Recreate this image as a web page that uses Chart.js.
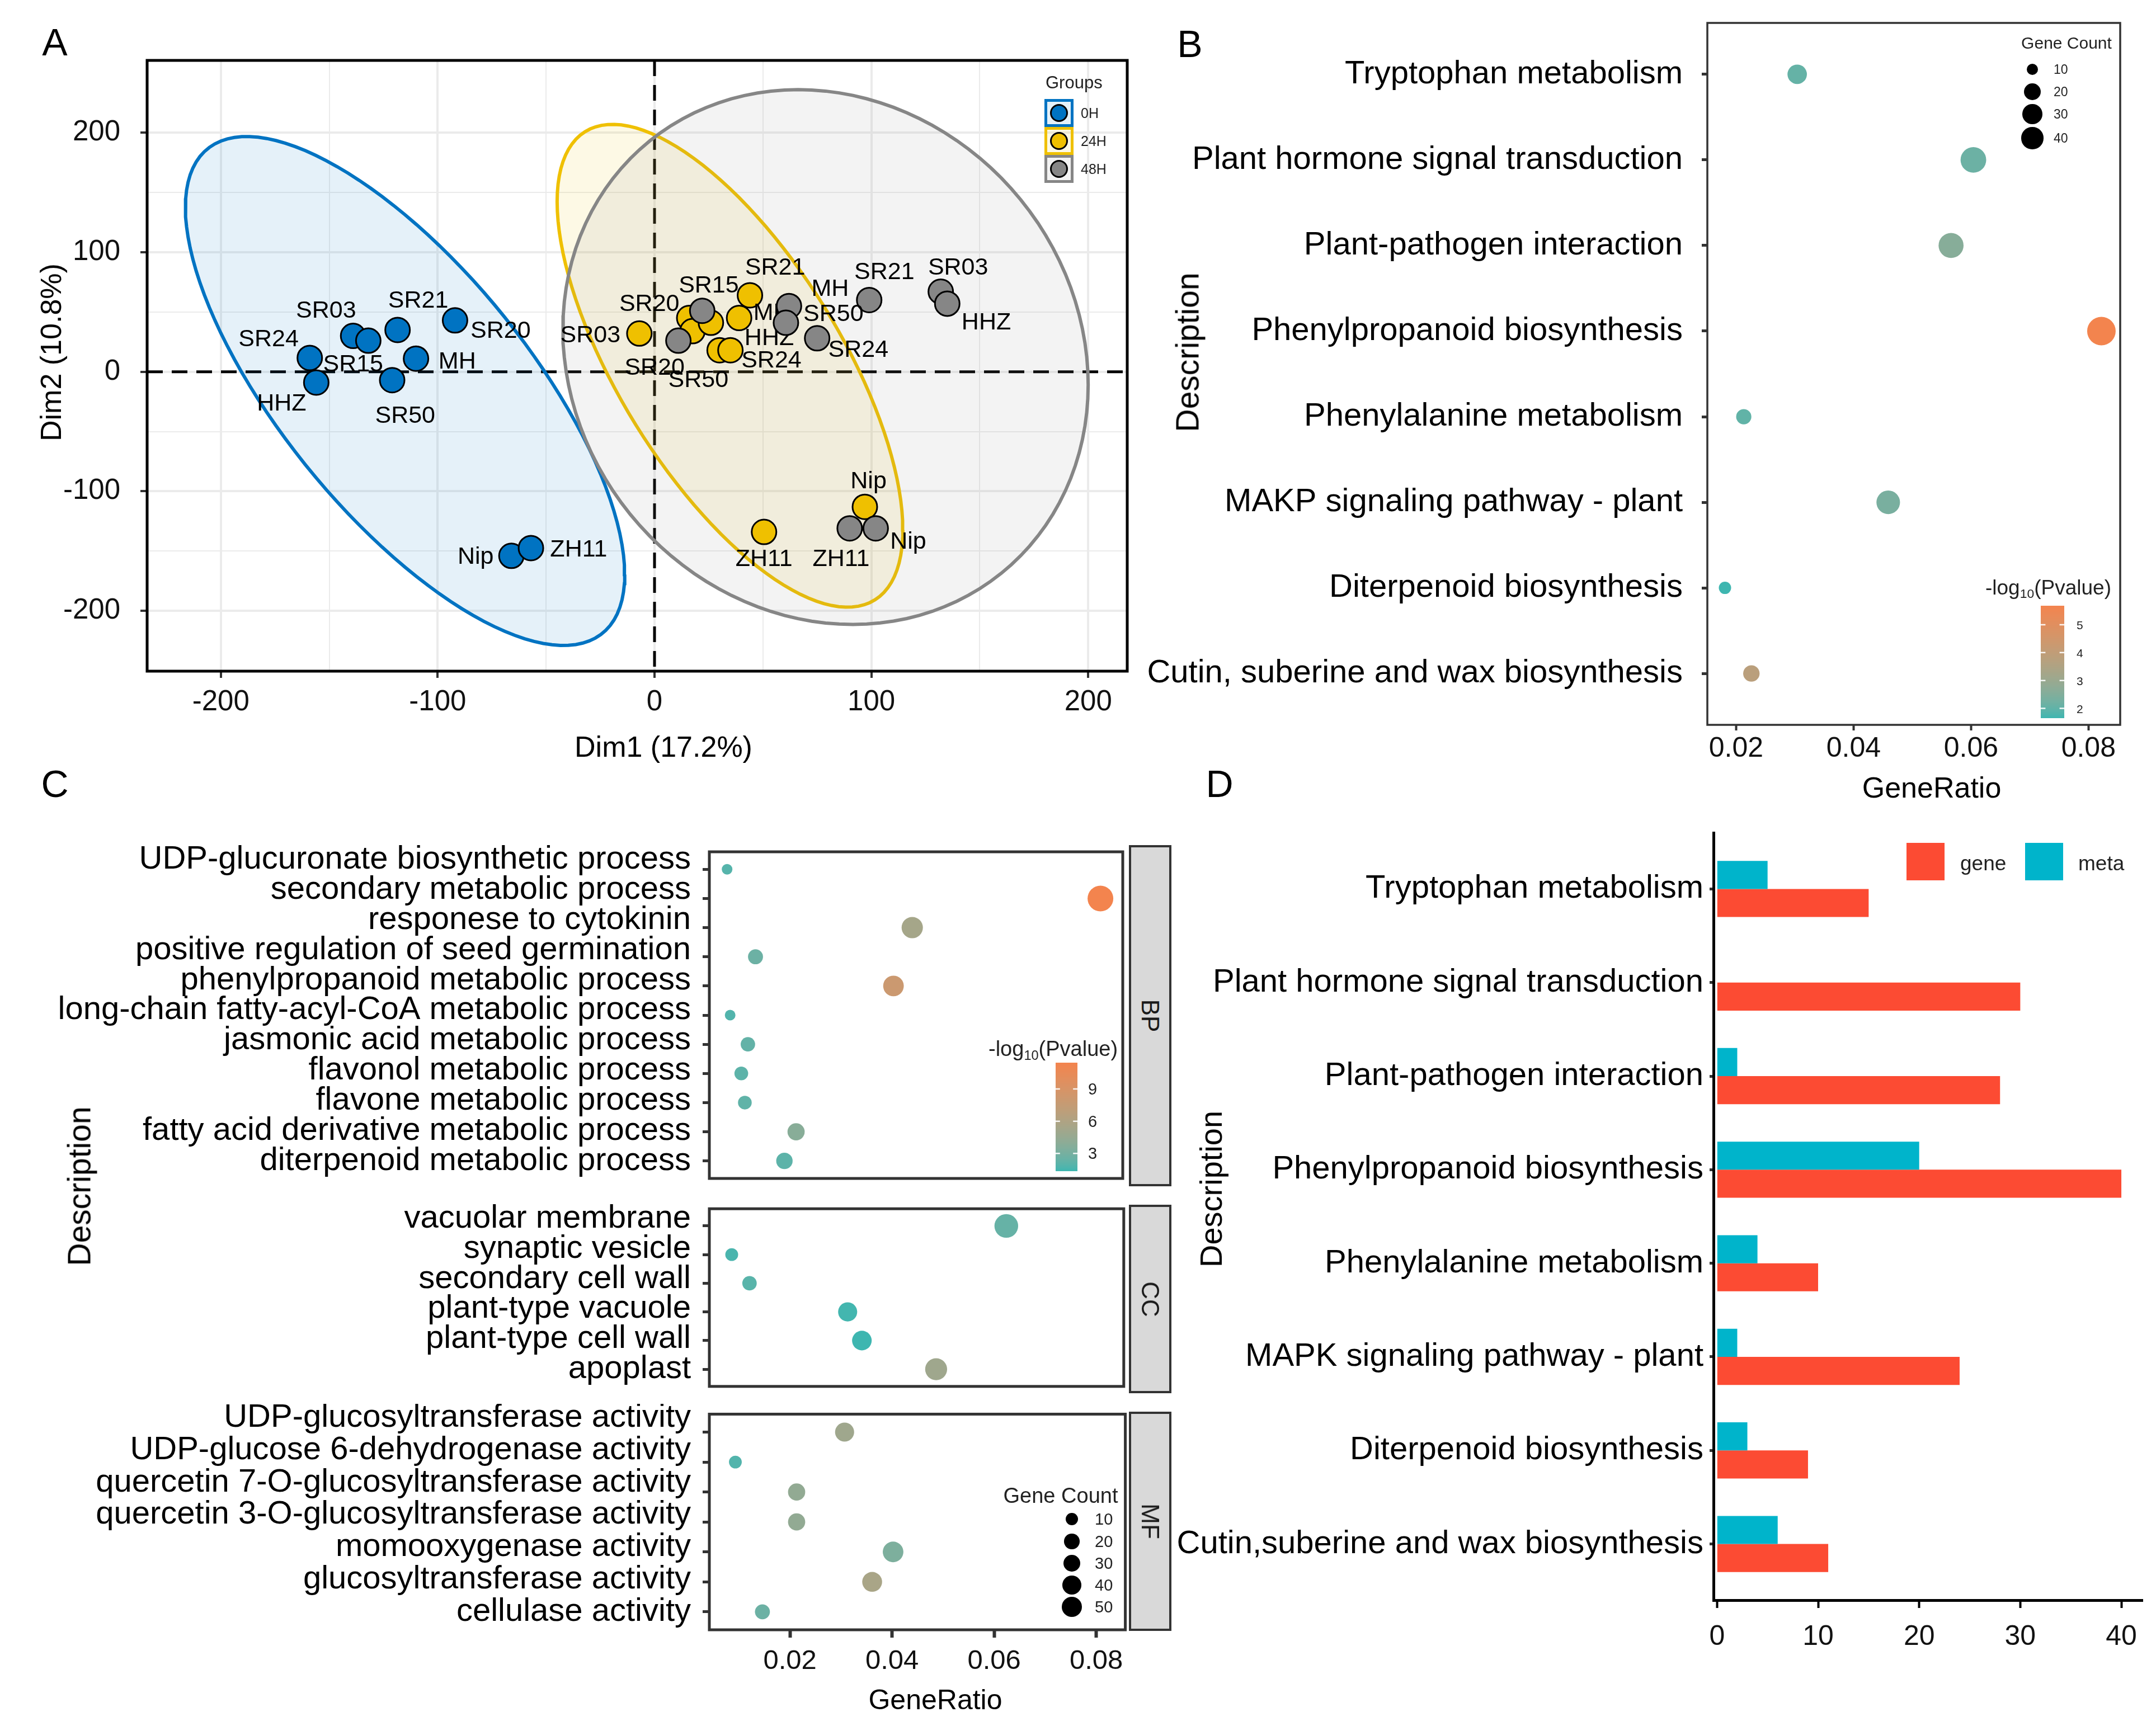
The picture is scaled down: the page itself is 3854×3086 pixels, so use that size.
<!DOCTYPE html>
<html>
<head>
<meta charset="utf-8">
<script src="https://cdn.jsdelivr.net/npm/chart.js@4.4.1/dist/chart.umd.min.js"></script>
<style>
  body { margin: 0; background: #fff; }
  #page { position: relative; width: 3854px; height: 3086px; background: #fff; overflow: hidden;
          font-family: "Liberation Sans", Arial, Helvetica, sans-serif; color: #000; }
  #page canvas { position: absolute; }
  .txt { position: absolute; white-space: nowrap; line-height: 1; }
  .txt sub { font-size: 0.62em; vertical-align: -0.3em; line-height: 0; }
  .box { position: absolute; box-sizing: border-box; }
</style>
</head>
<body>
<div id="page">
  <canvas id="pca" width="2040" height="1310" style="left:0px;top:0px"></canvas>
  <canvas id="keggDot" width="1810" height="1390" style="left:2040px;top:0px"></canvas>
  <canvas id="goBP" width="2030" height="630" style="left:0px;top:1500px"></canvas>
  <canvas id="goCC" width="2030" height="360" style="left:0px;top:2140px"></canvas>
  <canvas id="goMF" width="2030" height="576" style="left:0px;top:2510px"></canvas>
  <canvas id="keggBar" width="1750" height="1706" style="left:2100px;top:1380px"></canvas>
</div>
<script>
// ------- panel A : PCA scores (Dim1 / Dim2)
const groupNames = ['0H', '24H', '48H'];
const groupColors = ['#0073C2', '#EFC000', '#868686'];

const names0H = ['SR24', 'HHZ', 'SR03', 'SR15', 'SR21', 'MH', 'SR50', 'SR20', 'Nip', 'ZH11'];
const dim1_0H = [-159, -156, -139, -132, -118.5, -110, -121, -92, -66, -57];
const dim2_0H = [11.6, -9, 30, 26, 35, 11, -7, 43, -154, -147.5];

const names24H = ['SR03', 'SR20', 'SR50', 'HHZ', 'SR21', 'MH', 'SR24', 'SR15', 'Nip', 'ZH11'];
const dim1_24H = [-7, 16, 17.5, 26, 44, 39, 30, 35, 97, 50.5];
const dim2_24H = [32, 45, 34, 41, 64, 45, 18, 18, -113, -134];

const names48H = ['SR20', 'SR15', 'MH', 'SR50', 'SR24', 'SR21', 'SR03', 'HHZ', 'ZH11', 'Nip'];
const dim1_48H = [11, 22, 62, 60.6, 75, 99, 132, 135, 90, 102];
const dim2_48H = [26, 51, 55, 41, 28, 60, 67, 57, -131, -131];

// where the repelled name labels ended up (data units), null = dropped
const labX_0H = [-178, -172, -151.5, -139, -109, -91, -115, -71, -82.5, -35];
const labY_0H = [27, -27, 51, 6, 59, 8, -37, 34, -155, -149];
const labX_24H = [-29.6, -2.4, 20.2, 52.9, 55.6, 54.2, 53.9, null, 98.7, 50.5];
const labY_24H = [30, 56.6, -7, 27.7, 86.8, 48.8, 9.1, null, -92, -157];
const labX_48H = [0, 25, 81, 82.5, 94, 106, 140, 153, 86, 117];
const labY_48H = [3, 72, 69, 48, 18, 83, 87, 41, -157, -142.5];

const ticksA = [-200, -100, 0, 100, 200];
const minorA = [-150, -50, 50, 150];

// ------- panel B : KEGG enrichment dots
const pathB = ['Tryptophan metabolism', 'Plant hormone signal transduction', 'Plant-pathogen interaction',
  'Phenylpropanoid biosynthesis', 'Phenylalanine metabolism', 'MAKP signaling pathway - plant',
  'Diterpenoid biosynthesis', 'Cutin, suberine and wax biosynthesis'];
const ratioB = [0.0304, 0.0604, 0.0566, 0.0822, 0.0213, 0.0459, 0.0181, 0.0226];
const countB = [15, 30, 28, 40, 10, 24, 9, 11];
const logpB = [2.05, 2.15, 2.6, 5.68, 2.0, 2.35, 1.65, 3.8];
const xTicksB = [0.02, 0.04, 0.06, 0.08];
const sizeKeysB = [10, 20, 30, 40];
const colorKeysB = [2, 3, 4, 5];

// ------- panel C : GO enrichment (BP / CC / MF facets)
const termBP = ['UDP-glucuronate biosynthetic process', 'secondary metabolic process', 'responese to cytokinin',
  'positive regulation of seed germination', 'phenylpropanoid metabolic process',
  'long-chain fatty-acyl-CoA metabolic process', 'jasmonic acid metabolic process',
  'flavonol metabolic process', 'flavone metabolic process', 'fatty acid derivative metabolic process',
  'diterpenoid metabolic process'];
const ratioBP = [0.0077, 0.0813, 0.0442, 0.0133, 0.0405, 0.0083, 0.0118, 0.0105, 0.0112, 0.0213, 0.0190];
const countBP = [5, 53, 29, 9, 26, 5, 8, 7, 7, 14, 12];
const logpBP = [1.9, 11.45, 5.4, 2.6, 8.0, 1.8, 2.3, 2.1, 2.2, 3.8, 2.1];

const termCC = ['vacuolar membrane', 'synaptic vesicle', 'secondary cell wall', 'plant-type vacuole',
  'plant-type cell wall', 'apoplast'];
const ratioCC = [0.0626, 0.0086, 0.0121, 0.0314, 0.0342, 0.0488];
const countCC = [41, 6, 8, 20, 22, 32];
const logpCC = [2.4, 1.6, 2.0, 1.45, 1.35, 5.0];

const termMF = ['UDP-glucosyltransferase activity', 'UDP-glucose 6-dehydrogenase activity',
  'quercetin 7-O-glucosyltransferase activity', 'quercetin 3-O-glucosyltransferase activity',
  'momooxygenase activity', 'glucosyltransferase activity', 'cellulase activity'];
const ratioMF = [0.0307, 0.0093, 0.0213, 0.0213, 0.0402, 0.0361, 0.0146];
const countMF = [20, 6, 14, 14, 26, 23, 9];
const logpMF = [5.0, 1.8, 4.3, 4.3, 3.3, 5.6, 2.6];

const xTicksC = [0.02, 0.04, 0.06, 0.08];
const sizeKeysC = [10, 20, 30, 40, 50];
const colorKeysC = [3, 6, 9];

// ------- panel D : gene / metabolite counts per pathway
const pathD = ['Tryptophan metabolism', 'Plant hormone signal transduction', 'Plant-pathogen interaction',
  'Phenylpropanoid biosynthesis', 'Phenylalanine metabolism', 'MAPK signaling pathway - plant',
  'Diterpenoid biosynthesis', 'Cutin,suberine and wax biosynthesis'];
const geneD = [15, 30, 28, 40, 10, 24, 9, 11];
const metaD = [5, 0, 2, 20, 4, 2, 3, 6];
const xTicksD = [0, 10, 20, 30, 40];


Chart.defaults.font.family = '"Liberation Sans", Arial, Helvetica, sans-serif';
Chart.defaults.color = '#111';

const page = document.getElementById('page');

function addText(html, x, y, size, opt) {
  opt = opt || {};
  const d = document.createElement('div');
  d.className = 'txt';
  d.innerHTML = html;
  d.style.fontSize = size + 'px';
  d.style.left = x + 'px';
  d.style.top = y + 'px';
  if (opt.color) d.style.color = opt.color;
  const tx = opt.left ? '0' : '-50%';
  d.style.transform = 'translate(' + tx + ',-50%)' + (opt.rot ? ' rotate(' + opt.rot + 'deg)' : '');
  page.appendChild(d);
  return d;
}

function addBox(x, y, w, h, css) {
  const d = document.createElement('div');
  d.className = 'box';
  d.style.left = x + 'px'; d.style.top = y + 'px';
  d.style.width = w + 'px'; d.style.height = h + 'px';
  Object.assign(d.style, css || {});
  page.appendChild(d);
  return d;
}

function pts(xs, ys) {
  return xs.map((x, i) => ({ x: x, y: ys[i] }));
}

function hexA(hex, a) {
  const n = parseInt(hex.slice(1), 16);
  return 'rgba(' + (n >> 16) + ',' + ((n >> 8) & 255) + ',' + (n & 255) + ',' + a + ')';
}

// colour ramp in CIELAB, like ggplot's scale_colour_gradient
function toLab(hex) {
  const n = parseInt(hex.slice(1), 16);
  const lin = [n >> 16, (n >> 8) & 255, n & 255].map(c => {
    c /= 255;
    return c <= 0.04045 ? c / 12.92 : Math.pow((c + 0.055) / 1.055, 2.4);
  });
  const X = (0.4124 * lin[0] + 0.3576 * lin[1] + 0.1805 * lin[2]) / 0.95047;
  const Y = 0.2126 * lin[0] + 0.7152 * lin[1] + 0.0722 * lin[2];
  const Z = (0.0193 * lin[0] + 0.1192 * lin[1] + 0.9505 * lin[2]) / 1.08883;
  const f = t => t > 0.008856 ? Math.cbrt(t) : 7.787 * t + 16 / 116;
  return [116 * f(Y) - 16, 500 * (f(X) - f(Y)), 200 * (f(Y) - f(Z))];
}
function fromLab(L, a, b) {
  const fy = (L + 16) / 116, fx = fy + a / 500, fz = fy - b / 200;
  const g = t => t * t * t > 0.008856 ? t * t * t : (t - 16 / 116) / 7.787;
  const X = g(fx) * 0.95047, Y = g(fy), Z = g(fz) * 1.08883;
  const r = 3.2406 * X - 1.5372 * Y - 0.4986 * Z;
  const gg = -0.9689 * X + 1.8758 * Y + 0.0415 * Z;
  const bb = 0.0557 * X - 0.2040 * Y + 1.0570 * Z;
  const out = [r, gg, bb].map(c => {
    c = c <= 0.0031308 ? 12.92 * c : 1.055 * Math.pow(c, 1 / 2.4) - 0.055;
    return Math.round(Math.min(1, Math.max(0, c)) * 255);
  });
  return 'rgb(' + out.join(',') + ')';
}
const lowLab = toLab('#3EB6B0');
const highLab = toLab('#F3844E');
function rampColor(v, all) {
  const lo = Math.min(...all), hi = Math.max(...all);
  const t = (v - lo) / (hi - lo);
  return fromLab(lowLab[0] + t * (highLab[0] - lowLab[0]),
                 lowLab[1] + t * (highLab[1] - lowLab[1]),
                 lowLab[2] + t * (highLab[2] - lowLab[2]));
}

// area scale for point size (diameter range in px)
function dotRadius(count, all, dmin, dmax) {
  const lo = Math.min(...all), hi = Math.max(...all);
  const t = Math.max(0, (count - lo) / (hi - lo));
  return (dmin + Math.sqrt(t) * (dmax - dmin)) / 2;
}

function boxBorder(color, width) {
  return {
    id: 'boxBorder',
    afterDraw(chart) {
      const { ctx, chartArea: ca } = chart;
      ctx.save();
      ctx.strokeStyle = color;
      ctx.lineWidth = width;
      ctx.strokeRect(ca.left, ca.top, ca.right - ca.left, ca.bottom - ca.top);
      ctx.restore();
    }
  };
}

function fixY(w) {
  return s => { s.width = w; s.paddingTop = 0; s.paddingBottom = 0; };
}
function fixX(h) {
  return s => { s.height = h; s.paddingLeft = 0; s.paddingRight = 0; };
}

// ===================== A =====================
// stat_ellipse(type = "norm"): radius sqrt(2 * qf(0.95, 2, n - 1))
function confEllipse(xs, ys) {
  const n = xs.length;
  const mx = xs.reduce((a, b) => a + b, 0) / n;
  const my = ys.reduce((a, b) => a + b, 0) / n;
  let sxx = 0, syy = 0, sxy = 0;
  for (let i = 0; i < n; i++) {
    sxx += (xs[i] - mx) * (xs[i] - mx);
    syy += (ys[i] - my) * (ys[i] - my);
    sxy += (xs[i] - mx) * (ys[i] - my);
  }
  sxx /= n - 1; syy /= n - 1; sxy /= n - 1;
  const df = n - 1;
  const q = df / 2 * (Math.pow(0.05, -2 / df) - 1);
  const r = Math.sqrt(2 * q);
  const a = Math.sqrt(sxx), b = sxy / a, c = Math.sqrt(syy - b * b);
  const out = [];
  for (let k = 0; k <= 120; k++) {
    const t = 2 * Math.PI * k / 120;
    out.push({ x: mx + r * a * Math.cos(t), y: my + r * (b * Math.cos(t) + c * Math.sin(t)) });
  }
  return out;
}

const groupX = [dim1_0H, dim1_24H, dim1_48H];
const groupY = [dim2_0H, dim2_24H, dim2_48H];
const groupLabels = [names0H, names24H, names48H];
const groupLabX = [labX_0H, labX_24H, labX_48H];
const groupLabY = [labY_0H, labY_24H, labY_48H];

const zeroLines = {
  id: 'zeroLines',
  beforeDatasetsDraw(chart) {
    const { ctx, chartArea: ca, scales } = chart;
    const x0 = scales.x.getPixelForValue(0), y0 = scales.y.getPixelForValue(0);
    ctx.save();
    ctx.strokeStyle = '#000';
    ctx.lineWidth = 5;
    ctx.setLineDash([28, 16]);
    ctx.beginPath();
    ctx.moveTo(x0, ca.top); ctx.lineTo(x0, ca.bottom);
    ctx.moveTo(ca.left, y0); ctx.lineTo(ca.right, y0);
    ctx.stroke();
    ctx.restore();
  }
};

const nameLabels = {
  id: 'nameLabels',
  afterDatasetDraw(chart, args) {
    const ds = chart.data.datasets[args.index];
    if (!ds.names) return;
    const { ctx, scales } = chart;
    ctx.save();
    ctx.font = '43px "Liberation Sans", Arial, sans-serif';
    ctx.fillStyle = '#000';
    ctx.textAlign = 'center';
    ctx.textBaseline = 'middle';
    ds.names.forEach((nm, k) => {
      if (ds.labX[k] === null) return;
      ctx.fillText(nm, scales.x.getPixelForValue(ds.labX[k]), scales.y.getPixelForValue(ds.labY[k]));
    });
    ctx.restore();
  }
};

const pcaSets = [];
groupNames.forEach((g, i) => {
  pcaSets.push({
    type: 'line',
    label: g + ' ellipse',
    data: confEllipse(groupX[i], groupY[i]),
    borderColor: groupColors[i],
    borderWidth: 6,
    backgroundColor: hexA(groupColors[i], 0.1),
    fill: 'shape',
    pointRadius: 0,
    tension: 0,
    order: 12 - i
  });
});
groupNames.forEach((g, i) => {
  pcaSets.push({
    type: 'scatter',
    label: g,
    data: pts(groupX[i], groupY[i]),
    pointRadius: 22,
    pointBackgroundColor: groupColors[i],
    pointBorderColor: '#000',
    pointBorderWidth: 3,
    order: 3 - i,
    names: groupLabels[i],
    labX: groupLabX[i],
    labY: groupLabY[i]
  });
});

const gridA = ticksA.concat(minorA).sort((a, b) => a - b);
function gridAxisA(min, max, fit, padding) {
  return {
    type: 'linear', min: min, max: max,
    afterBuildTicks: s => { s.ticks = gridA.map(v => ({ value: v })); },
    ticks: { font: { size: 51 }, color: '#111', padding: padding, autoSkip: false, maxRotation: 0,
             callback: v => ticksA.includes(v) ? String(v) : '' },
    grid: {
      color: '#EBEBEB',
      lineWidth: c => (c.tick && ticksA.includes(c.tick.value)) ? 4 : 2,
      tickLength: 12,
      tickWidth: 4,
      tickColor: c => (c.tick && ticksA.includes(c.tick.value)) ? '#333' : 'rgba(0,0,0,0)'
    },
    border: { display: false },
    afterFit: fit
  };
}

new Chart(document.getElementById('pca'), {
  type: 'scatter',
  data: { datasets: pcaSets },
  options: {
    responsive: false, animation: false, events: [],
    layout: { padding: { top: 108, right: 20, left: 0, bottom: 0 } },
    plugins: { legend: { display: false }, tooltip: { enabled: false } },
    scales: {
      x: gridAxisA(-234, 218, fixX(110), 13),
      y: gridAxisA(-250.5, 260.5, fixY(263), 36)
    }
  },
  plugins: [zeroLines, nameLabels, boxBorder('#000', 5)]
});

addText('A', 98, 75, 68);
addText('Dim1 (17.2%)', 1186, 1335, 52);
addText('Dim2 (10.8%)', 91, 630, 52, { rot: -90 });

// groups legend
addText('Groups', 1869, 147, 31, { left: true, color: '#222' });
groupNames.forEach((g, i) => {
  addBox(1867, 177 + 50 * i, 52, 50, { border: '5px solid ' + groupColors[i], background: hexA(groupColors[i], 0.1) });
  addBox(1877, 186 + 50 * i, 32, 32, { border: '3px solid #000', borderRadius: '50%', background: groupColors[i] });
  addText(g, 1932, 202 + 50 * i, 25, { left: true, color: '#222' });
});

// ===================== B =====================
function categoryAxis(cats, n, fit, padding, tickLen, showLabels) {
  return {
    type: 'linear', reverse: true, min: -0.6, max: n - 0.4, offset: false,
    afterBuildTicks: s => { s.ticks = cats.map((c, i) => ({ value: i })); },
    ticks: { display: showLabels, font: { size: 58 }, color: '#000', padding: padding, autoSkip: false,
             callback: v => cats[v] },
    grid: { drawOnChartArea: false, tickLength: tickLen, tickWidth: 5, tickColor: '#333' },
    border: { display: false },
    afterFit: fit
  };
}

new Chart(document.getElementById('keggDot'), {
  type: 'scatter',
  data: {
    datasets: [{
      data: pts(ratioB, pathB.map((p, i) => i)),
      pointRadius: c => dotRadius(countB[c.dataIndex], countB, 22, 51),
      pointBackgroundColor: c => rampColor(logpB[c.dataIndex], logpB),
      pointBorderWidth: 0
    }]
  },
  options: {
    responsive: false, animation: false, events: [],
    layout: { padding: { top: 41, right: 60, left: 0, bottom: 0 } },
    plugins: { legend: { display: false }, tooltip: { enabled: false } },
    scales: {
      x: {
        type: 'linear', min: 0.0151, max: 0.0854,
        afterBuildTicks: s => { s.ticks = xTicksB.map(v => ({ value: v })); },
        ticks: { font: { size: 50 }, color: '#111', padding: 3, autoSkip: false, maxRotation: 0,
                 callback: v => v.toFixed(2) },
        grid: { drawOnChartArea: false, tickLength: 10, tickWidth: 4, tickColor: '#333' },
        border: { display: false },
        afterFit: fixX(94)
      },
      y: categoryAxis(pathB, pathB.length, fixY(1012), 34, 10, true)
    }
  },
  plugins: [boxBorder('#333', 3.5)]
});

addText('B', 2127, 78, 68);
addText('Description', 2123, 630, 57, { rot: -90 });
addText('GeneRatio', 3453, 1408, 52);

function colorBar(x, y, w, h, all, keys, labelX, fontSize) {
  const cv = document.createElement('canvas');
  cv.width = w; cv.height = h;
  cv.style.left = x + 'px'; cv.style.top = y + 'px';
  page.appendChild(cv);
  const ctx = cv.getContext('2d');
  const lo = Math.min(...all), hi = Math.max(...all);
  for (let k = 0; k < h; k++) {
    ctx.fillStyle = rampColor(hi - (hi - lo) * k / (h - 1), all);
    ctx.fillRect(0, k, w, 1);
  }
  ctx.strokeStyle = 'rgba(255,255,255,0.9)';
  ctx.lineWidth = 2.5;
  keys.forEach(v => {
    const py = (hi - v) / (hi - lo) * h;
    ctx.beginPath();
    ctx.moveTo(0, py); ctx.lineTo(w * 0.2, py);
    ctx.moveTo(w * 0.8, py); ctx.lineTo(w, py);
    ctx.stroke();
    addText(String(v), labelX, y + py, fontSize, { left: true, color: '#222' });
  });
}

// gene count legend B
addText('Gene Count', 3694, 77, 30, { color: '#222' });
[124, 164, 204, 247].forEach((py, k) => {
  const d = 2 * dotRadius(sizeKeysB[k], countB, 22, 51) * 0.77;
  addBox(3633 - d / 2, py - d / 2, d, d, { borderRadius: '50%', background: '#000' });
  addText(String(sizeKeysB[k]), 3671, py, 23, { left: true, color: '#222' });
});
addText('-log<sub>10</sub>(Pvalue)', 3549, 1050, 37, { left: true, color: '#222' });
colorBar(3648, 1083, 42, 201, logpB, colorKeysB, 3712, 21);

// ===================== C =====================
const countC = countBP.concat(countCC, countMF);
const logpC = logpBP.concat(logpCC, logpMF);

// term labels in C sit a little looser than their ticks, anchored at the bottom row
function spreadLabels(terms, stretch) {
  return {
    id: 'spreadLabels',
    afterDraw(chart) {
      const { ctx, chartArea: ca, scales } = chart;
      const n = terms.length;
      const last = scales.y.getPixelForValue(n - 1);
      const step = (last - scales.y.getPixelForValue(0)) / (n - 1) * stretch;
      ctx.save();
      ctx.font = '58px "Liberation Sans", Arial, sans-serif';
      ctx.fillStyle = '#000';
      ctx.textAlign = 'right';
      ctx.textBaseline = 'middle';
      terms.forEach((t, i) => {
        ctx.fillText(t, ca.left - 33, last - (n - 1 - i) * step);
      });
      ctx.restore();
    }
  };
}

function goFacet(id, terms, ratios, counts, logps, pad, showX, stretch) {
  return new Chart(document.getElementById(id), {
    type: 'scatter',
    data: {
      datasets: [{
        data: pts(ratios, terms.map((t, i) => i)),
        pointRadius: c => dotRadius(counts[c.dataIndex], countC, 19, 46),
        pointBackgroundColor: c => rampColor(logps[c.dataIndex], logpC),
        pointBorderWidth: 0
      }]
    },
    options: {
      responsive: false, animation: false, events: [],
      layout: { padding: pad },
      plugins: { legend: { display: false }, tooltip: { enabled: false } },
      scales: {
        x: {
          type: 'linear', min: 0.0042, max: 0.0857, display: showX,
          afterBuildTicks: s => { s.ticks = xTicksC.map(v => ({ value: v })); },
          ticks: { font: { size: 49 }, color: '#111', padding: 13, autoSkip: false, maxRotation: 0,
                   callback: v => v.toFixed(2) },
          grid: { drawOnChartArea: false, tickLength: 14, tickWidth: 6, tickColor: '#333' },
          border: { display: false },
          afterFit: fixX(showX ? 172 : 0)
        },
        y: categoryAxis(terms, terms.length, fixY(1268), 21, 12, false)
      }
    },
    plugins: [boxBorder('#333', 5), spreadLabels(terms, stretch)]
  });
}

goFacet('goBP', termBP, ratioBP, countBP, logpBP, { top: 13, right: 14, left: 0, bottom: 11 }, false, 1.033);
goFacet('goCC', termCC, ratioCC, countCC, logpCC, { top: 16, right: 14, left: 0, bottom: 11 }, false, 1.05);
goFacet('goMF', termMF, ratioMF, countMF, logpMF, { top: 16, right: 14, left: 0, bottom: 0 }, true, 1.08);

// facet strips
[['BP', 1513, 2119], ['CC', 2156, 2489], ['MF', 2526, 2914]].forEach(s => {
  addBox(2018, s[1] - 2, 76, s[2] - s[1] + 4, { border: '4px solid #333', background: '#D9D9D9' });
  addText(s[0], 2056, (s[1] + s[2]) / 2, 44, { rot: 90, color: '#1a1a1a' });
});

addText('C', 98, 1401, 68);
addText('Description', 142, 2121, 57, { rot: -90 });
addText('GeneRatio', 1672, 3039, 50);

addText('-log<sub>10</sub>(Pvalue)', 1767, 1875, 38, { left: true, color: '#222' });
colorBar(1887, 1900, 39, 194, logpC, colorKeysC, 1945, 29);

addText('Gene Count', 1896, 2674, 38, { color: '#222' });
[2716, 2756, 2795, 2834, 2873].forEach((py, k) => {
  const d = 2 * dotRadius(sizeKeysC[k], countC, 19, 46) * 0.8;
  addBox(1916 - d / 2, py - d / 2, d, d, { borderRadius: '50%', background: '#000' });
  addText(String(sizeKeysC[k]), 1957, py, 29, { left: true, color: '#222' });
});

// ===================== D =====================
new Chart(document.getElementById('keggBar'), {
  type: 'bar',
  data: {
    datasets: [
      { label: 'meta', data: pts(metaD, pathD.map((p, i) => i)), backgroundColor: '#00B4CB',
        barPercentage: 1, categoryPercentage: 0.6 },
      { label: 'gene', data: pts(geneD, pathD.map((p, i) => i)), backgroundColor: '#FC4B33',
        barPercentage: 1, categoryPercentage: 0.6 }
    ]
  },
  options: {
    indexAxis: 'y',
    responsive: false, animation: false, events: [],
    layout: { padding: { top: 109, right: 20, left: 0, bottom: 0 } },
    plugins: { legend: { display: false }, tooltip: { enabled: false } },
    scales: {
      x: {
        type: 'linear', min: -0.35, max: 42.1,
        afterBuildTicks: s => { s.ticks = xTicksD.map(v => ({ value: v })); },
        ticks: { font: { size: 50 }, color: '#111', padding: 22, autoSkip: false, maxRotation: 0 },
        grid: { drawOnChartArea: false, tickLength: 14, tickWidth: 4, tickColor: '#000' },
        border: { display: true, color: '#000', width: 5 },
        afterFit: fixX(225)
      },
      y: {
        type: 'linear', reverse: true, min: -0.6, max: pathD.length - 0.4, offset: false,
        afterBuildTicks: s => { s.ticks = pathD.map((p, i) => ({ value: i })); },
        ticks: { font: { size: 58 }, color: '#000', padding: 11, autoSkip: false,
                 callback: v => pathD[v] },
        grid: { drawOnChartArea: false, offset: false, tickLength: 7, tickWidth: 5, tickColor: '#333' },
        border: { display: true, color: '#000', width: 5 },
        afterFit: fixY(963)
      }
    }
  }
});

addText('D', 2180, 1401, 68);
addText('Description', 2165, 2126, 56, { rot: -90 });
addBox(3408, 1507, 68, 67, { background: '#FC4B33' });
addText('gene', 3504, 1543, 37, { left: true, color: '#222' });
addBox(3620, 1507, 68, 67, { background: '#00B4CB' });
addText('meta', 3715, 1543, 37, { left: true, color: '#222' });
</script>
</body>
</html>
